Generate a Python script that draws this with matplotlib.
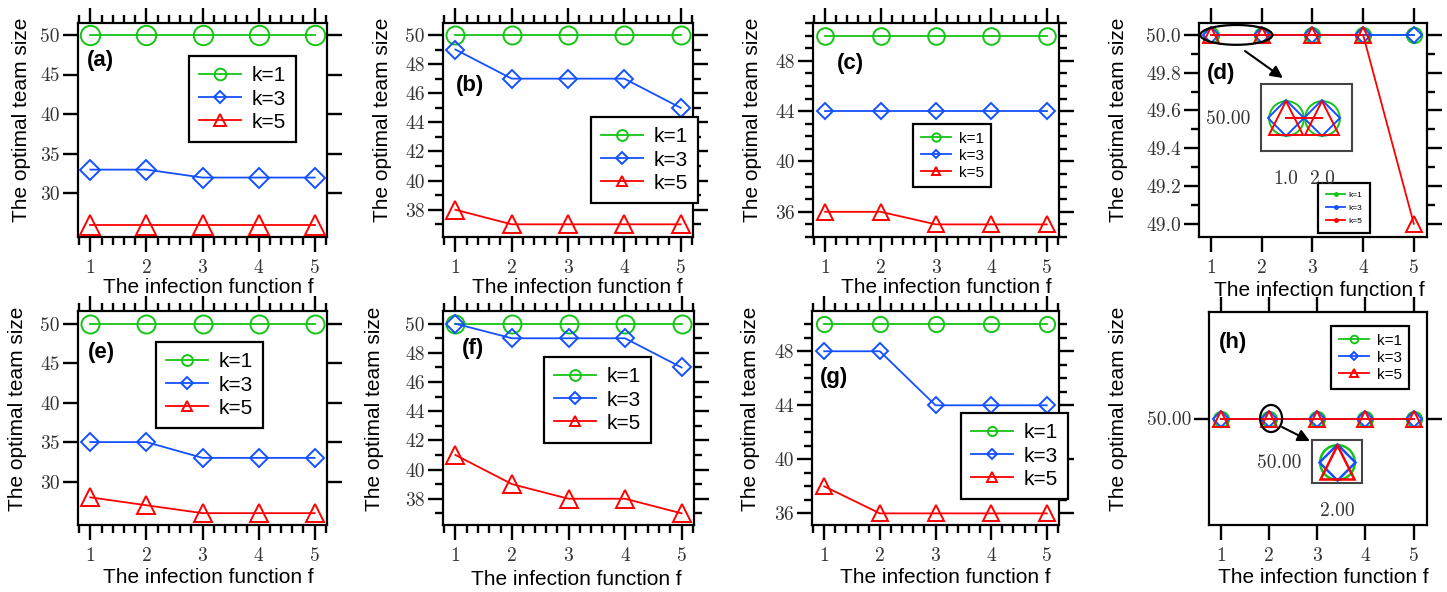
import matplotlib
matplotlib.use('Agg')
import matplotlib.pyplot as plt
from matplotlib.ticker import MultipleLocator, FormatStrFormatter, FixedLocator, NullLocator
from matplotlib.patches import Ellipse
from matplotlib.lines import Line2D

# ---------------- data ----------------
f_vals = [1, 2, 3, 4, 5]
series_labels = ['k=1', 'k=3', 'k=5']

a_k1 = [50, 50, 50, 50, 50]
a_k3 = [33, 33, 32, 32, 32]
a_k5 = [26, 26, 26, 26, 26]

b_k1 = [50, 50, 50, 50, 50]
b_k3 = [49, 47, 47, 47, 45]
b_k5 = [38, 37, 37, 37, 37]

c_k1 = [50, 50, 50, 50, 50]
c_k3 = [44, 44, 44, 44, 44]
c_k5 = [36, 36, 35, 35, 35]

d_k1 = [50, 50, 50, 50, 50]
d_k3 = [50, 50, 50, 50, 50]
d_k5 = [50, 50, 50, 50, 49]

e_k1 = [50, 50, 50, 50, 50]
e_k3 = [35, 35, 33, 33, 33]
e_k5 = [28, 27, 26, 26, 26]

f_k1 = [50, 50, 50, 50, 50]
f_k3 = [50, 49, 49, 49, 47]
f_k5 = [41, 39, 38, 38, 37]

g_k1 = [50, 50, 50, 50, 50]
g_k3 = [48, 48, 44, 44, 44]
g_k5 = [38, 36, 36, 36, 36]

h_k1 = [50, 50, 50, 50, 50]
h_k3 = [50, 50, 50, 50, 50]
h_k5 = [50, 50, 50, 50, 50]

ae_yticks = [30, 35, 40, 45, 50]
h_yticks = [50]

panel_names = ['(a)', '(b)', '(c)', '(d)', '(e)', '(f)', '(g)', '(h)']

# ---------------- style ----------------
GREEN = '#16c416'
BLUE = '#1450ff'
RED = '#ff0000'
colors = [GREEN, BLUE, RED]
markers = ['o', 'D', '^']

W, H = 1447, 592
fig = plt.figure(figsize=(W / 100, H / 100), dpi=100)

TICKFONT = 'cmr10'
LABELFONT = 'Liberation Sans'


def px_axes(l, t, r, b):
    return [l / W, (H - b) / H, (r - l) / W, (b - t) / H]


cfg = [
    dict(box=(78, 23, 327, 237), data=(a_k1, a_k3, a_k5), ylim=(24.5, 51.5),
         yfixed=ae_yticks, ymaj=None, ymin=None, xminor=True, fmt='%d', ms=(14, 10, 14),
         leg=(189, 56), legfs=15, legms=0.6, lab=(0.036, 0.827),
         ylab=(22, 0.547), xlab=(0.522, -0.237)),
    dict(box=(443, 23, 693, 237), data=(b_k1, b_k3, b_k5), ylim=(36.13, 50.82),
         yfixed=None, ymaj=2, ymin=1, xminor=True, fmt='%d', ms=(13, 9.5, 13),
         leg=(591, 117), legfs=15, legms=0.6, lab=(0.052, 0.71),
         ylab=(382, 0.547), xlab=(0.536, -0.237)),
    dict(box=(813, 23, 1059, 237), data=(c_k1, c_k3, c_k5), ylim=(34.0, 51.0),
         yfixed=None, ymaj=4, ymin=1, xminor=True, fmt='%d', ms=(12, 8.5, 12),
         leg=(913, 124), legfs=11, legms=0.5, lab=(0.098, 0.813),
         ylab=(753, 0.547), xlab=(0.54, -0.237)),
    dict(box=(1199, 23, 1427, 237), data=(d_k1, d_k3, d_k5), ylim=(48.93, 50.063),
         yfixed=None, ymaj=0.2, ymin=0.1, xminor=False, fmt='%.1f', ms=(11, 8, 12),
         leg=(1318, 183), legfs=6, legms=None, lab=(0.035, 0.766),
         ylab=(1118, 0.547), xlab=(0.526, -0.248), xlim=(0.763, 5.26)),
    dict(box=(78, 311, 327, 525), data=(e_k1, e_k3, e_k5), ylim=(24.5, 51.6),
         yfixed=ae_yticks, ymaj=None, ymin=None, xminor=True, fmt='%d', ms=(13, 9.5, 13),
         leg=(156, 342), legfs=15, legms=0.6, lab=(0.04, 0.804),
         ylab=(18, 0.542), xlab=(0.522, -0.243)),
    dict(box=(443, 311, 694, 525), data=(f_k1, f_k3, f_k5), ylim=(36.2, 50.87),
         yfixed=None, ymaj=2, ymin=1, xminor=True, fmt='%d', ms=(13, 9.5, 13),
         leg=(544, 357), legfs=15, legms=0.6, lab=(0.076, 0.827),
         ylab=(375, 0.542), xlab=(0.532, -0.257)),
    dict(box=(812, 311, 1059, 525), data=(g_k1, g_k3, g_k5), ylim=(35.14, 50.98),
         yfixed=None, ymaj=4, ymin=1, xminor=True, fmt='%d', ms=(11, 8, 11),
         leg=(961, 413), legfs=15, legms=0.6, lab=(0.032, 0.687),
         ylab=(750, 0.542), xlab=(0.54, -0.243)),
    dict(box=(1209, 312, 1427, 525), data=(h_k1, h_k3, h_k5), ylim=(49.9, 50.1),
         yfixed=h_yticks, ymaj=None, ymin=None, xminor=False, fmt='%.2f', ms=(11, 8, 11),
         leg=(1331, 326), legfs=11, legms=0.5, lab=(0.046, 0.859),
         ylab=(1118, 0.545), xlab=(0.523, -0.248), xlim=(0.75, 5.28)),
]

axes = []
for i, c in enumerate(cfg):
    l, t, r, b = c['box']
    ax = fig.add_axes(px_axes(l, t, r, b))
    axes.append(ax)
    for j in range(3):
        ax.plot(f_vals, c['data'][j], color=colors[j], marker=markers[j],
                mfc='none', mec=colors[j], ms=c['ms'][j], mew=1.4, lw=1.3,
                label=series_labels[j], clip_on=False, zorder=3 + j)
    ax.set_xlim(*c.get('xlim', (0.78, 5.22)))
    ax.set_ylim(*c['ylim'])
    ax.xaxis.set_major_locator(FixedLocator(f_vals))
    if c['xminor']:
        ax.xaxis.set_minor_locator(MultipleLocator(0.2))
    else:
        ax.xaxis.set_minor_locator(NullLocator())
    if c['yfixed'] is not None:
        ax.yaxis.set_major_locator(FixedLocator(c['yfixed']))
    else:
        ax.yaxis.set_major_locator(MultipleLocator(c['ymaj']))
    if c['ymin'] is not None:
        ax.yaxis.set_minor_locator(MultipleLocator(c['ymin']))
    else:
        ax.yaxis.set_minor_locator(NullLocator())
    ax.yaxis.set_major_formatter(FormatStrFormatter(c['fmt']))
    ax.tick_params(which='both', direction='out', top=True, right=True,
                   width=1.7, colors='black')
    ax.tick_params(which='major', length=11)
    ax.tick_params(which='minor', length=6)
    ax.tick_params(axis='x', which='major', pad=5)
    ax.tick_params(axis='y', which='major', pad=2)
    for lab in ax.get_xticklabels() + ax.get_yticklabels():
        lab.set_fontfamily(TICKFONT)
        lab.set_fontsize(14)
        lab.set_color('#333333')
    for sp in ax.spines.values():
        sp.set_linewidth(1.6)
    ax.set_xlabel('The infection function f', fontsize=15, family=LABELFONT,
                  va='center')
    ax.xaxis.set_label_coords(*c['xlab'])
    ax.set_ylabel('The optimal team size', fontsize=15, family=LABELFONT,
                  va='center')
    lx = (c['ylab'][0] - l) / (r - l)
    ax.yaxis.set_label_coords(lx, c['ylab'][1])
    ax.text(c['lab'][0], c['lab'][1], panel_names[i], transform=ax.transAxes,
            fontsize=16, fontweight='bold', family=LABELFONT,
            ha='left', va='center')

    # legend
    lgx = (c['leg'][0] - l) / (r - l)
    lgy = (b - c['leg'][1]) / (b - t)
    if c['legms'] is None:
        handles = [Line2D([0], [0], color=colors[j], marker='o', ms=2.5,
                          mfc=colors[j], mec=colors[j], lw=1.3)
                   for j in range(3)]
        leg = ax.legend(handles, series_labels, loc='upper left',
                        bbox_to_anchor=(lgx, lgy), borderaxespad=0,
                        prop={'family': LABELFONT, 'size': c['legfs']},
                        fancybox=False, framealpha=1, edgecolor='black',
                        handlelength=2.2, labelspacing=0.6, borderpad=1.0,
                        handletextpad=0.4)
    else:
        leg = ax.legend(loc='upper left', bbox_to_anchor=(lgx, lgy),
                        borderaxespad=0, prop={'family': LABELFONT, 'size': c['legfs']},
                        fancybox=False, framealpha=1, edgecolor='black',
                        markerscale=c['legms'], handlelength=2.0,
                        labelspacing=0.2, borderpad=0.5, handletextpad=0.5)
    leg.get_frame().set_linewidth(1.6)
    leg.set_zorder(10)

# ---------------- annotations in (d) ----------------
ax_d = axes[3]
ax_d.add_patch(Ellipse((1.5, 50.0), 1.42, 0.105, fill=False, ec='black',
                       lw=1.6, zorder=8, clip_on=False))
ax_d.annotate('', xy=(0.368, 0.743), xytext=(0.202, 0.869),
              xycoords='axes fraction', textcoords='axes fraction',
              arrowprops=dict(arrowstyle='-|>', color='black', lw=1.5,
                              mutation_scale=18, shrinkA=0, shrinkB=0))
ins_d = fig.add_axes(px_axes(1261, 84, 1352, 151))
for j, dat in enumerate((d_k1, d_k3, d_k5)):
    ins_d.plot(f_vals[:2], dat[:2], color=colors[j], marker=markers[j],
               mfc='none', mec=colors[j], ms=(25, 18, 25)[j], mew=1.4, lw=1.4)
ins_d.set_xlim(0.3, 2.83)
ins_d.set_ylim(49.99, 50.01)
ins_d.xaxis.set_major_locator(FixedLocator(f_vals[:2]))
ins_d.xaxis.set_major_formatter(FormatStrFormatter('%.1f'))
ins_d.yaxis.set_major_locator(FixedLocator(h_yticks))
ins_d.yaxis.set_major_formatter(FormatStrFormatter('%.2f'))
ins_d.tick_params(length=0, pad=14)
ins_d.tick_params(axis='y', pad=8)
for lab in ins_d.get_xticklabels() + ins_d.get_yticklabels():
    lab.set_fontfamily(TICKFONT)
    lab.set_fontsize(14)
    lab.set_color('#333333')
for sp in ins_d.spines.values():
    sp.set_linewidth(1.5)
    sp.set_color('#444444')

# ---------------- annotations in (h) ----------------
ax_h = axes[7]
ax_h.add_patch(Ellipse((2.04, 50.0), 0.457, 0.0254, fill=False, ec='black',
                       lw=1.6, zorder=8, clip_on=False))
ax_h.annotate('', xy=(0.463, 0.394), xytext=(0.335, 0.460),
              xycoords='axes fraction', textcoords='axes fraction',
              arrowprops=dict(arrowstyle='-|>', color='black', lw=1.5,
                              mutation_scale=18, shrinkA=0, shrinkB=0))
ins_h = fig.add_axes(px_axes(1312, 440, 1362, 483))
for j, dat in enumerate((h_k1, h_k3, h_k5)):
    ins_h.plot(f_vals[1:2], dat[1:2], color=colors[j], marker=markers[j],
               mfc='none', mec=colors[j], ms=(25, 18, 25)[j], mew=1.8, lw=1.4)
ins_h.set_xlim(1.5, 2.5)
ins_h.set_ylim(49.99, 50.01)
ins_h.xaxis.set_major_locator(FixedLocator(f_vals[1:2]))
ins_h.xaxis.set_major_formatter(FormatStrFormatter('%.2f'))
ins_h.yaxis.set_major_locator(FixedLocator(h_yticks))
ins_h.yaxis.set_major_formatter(FormatStrFormatter('%.2f'))
ins_h.tick_params(length=0, pad=14)
ins_h.tick_params(axis='y', pad=8)
for lab in ins_h.get_xticklabels() + ins_h.get_yticklabels():
    lab.set_fontfamily(TICKFONT)
    lab.set_fontsize(14)
    lab.set_color('#333333')
for sp in ins_h.spines.values():
    sp.set_linewidth(1.5)
    sp.set_color('#444444')

fig.savefig('out.png', dpi=100)
